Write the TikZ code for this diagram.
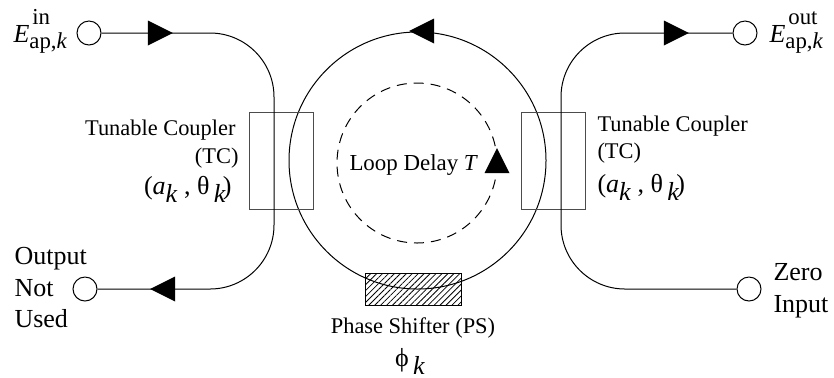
\documentclass[tikz,border=0pt]{standalone}
\usepackage{fontspec}
\setmainfont{Liberation Serif}
\usetikzlibrary{shapes.geometric,patterns.meta}
\newcommand{\lowk}{\raisebox{-4pt}{\textit{k}}}
\newcommand{\fieldE}[1]{\textit{E}\rlap{\kern1.5pt\raisebox{9pt}{\fontsize{11.4}{12}\selectfont #1}}\raisebox{-3pt}{\fontsize{11.4}{12}\selectfont ap,\textit{k}}}
\begin{document}
\begin{tikzpicture}[
    x=0.5pt,
    y=-0.5pt,
    line width=0.5pt,
    font=\fontsize{11.2}{14}\selectfont,
    port/.style={
		circle,
		draw=black,
		fill=white,
		inner sep=0pt,
		minimum size=12pt
	},
	head/.style={
		isosceles triangle,
		isosceles triangle apex angle=53,
		isosceles triangle stretches,
		fill=black,
		inner sep=0pt,
		minimum width=12.5pt,
		minimum height=12.5pt
	},
	coupler/.style={
		rectangle,
		draw=black!70,
		inner sep=0pt,
		minimum width=32pt,
		minimum height=48.5pt
	},
	big/.style={
		inner sep=0pt,
		font=\fontsize{13}{15.8}\selectfont
	},
	label/.style={
		inner sep=0pt
	}
  ]
    \useasboundingbox (0,0) rectangle (834,377);

    % ring and delay loop
    \node [circle, draw=black, inner sep=0pt, minimum size=128.5pt] (ring) at (417.5,160.5) {};
    \node [circle, draw=black, dash pattern=on 5pt off 3.5pt, inner sep=0pt, minimum size=80pt] (loop) at (417,163) {};

    % couplers and phase shifter
    \node [coupler] (tcleft) at (281,160.5) {};
    \node [coupler] (tcright) at (553,160.5) {};
    \node [rectangle, draw=black, pattern={Lines[angle=45,distance=2.1pt,line width=0.4pt]}, inner sep=0pt, minimum width=48pt, minimum height=16pt] (ps) at (413.5,289) {};

    % ports
    \node [port] (inport) at (89,33) {};
    \node [port] (outport) at (745,33) {};
    \node [port] (unused) at (85,289) {};
    \node [port] (zero) at (749,289) {};
    \coordinate (busleft) at (274,160);
    \coordinate (busright) at (561,160);

    \draw [rounded corners=32pt] (inport) -- (inport -| busleft) -- (unused -| busleft) -- (unused);
    \draw [rounded corners=32pt] (outport) -- (outport -| busright) -- (zero -| busright) -- (zero);

    % arrow heads
    \node [head, anchor=apex] (headin) at (174,33) {};
    \node [head, anchor=apex, shape border rotate=180] (headunused) at (149,289) {};
    \node [head, anchor=apex] (headout) at (690,33) {};
    \node [head, anchor=apex, shape border rotate=180] (headring) at (408,31) {};
    \node [head, anchor=apex, shape border rotate=90] (headloop) at (497,147) {};

    % labels
    \node [big, anchor=base west] (labelin) at (13,42) {\fieldE{in}};
    \node [big, anchor=base west] (labelout) at (769,42) {\fieldE{out}};
    \node [big, anchor=north west, align=left] (labelunused) at (14,247) {Output\\Not\\Used};
    \node [big, anchor=north west, align=left] (labelzero) at (773,263) {Zero\\Input};

    \node [label, anchor=base east] (tcnameleft) at (236,135) {Tunable Coupler};
    \node [label, anchor=base east] (tcshortleft) at (239,163) {(TC)};
    \node [big, anchor=base east] (tcvalleft) at (232,194) {(\textit{a}\lowk{} , \symbol{"03B8}\,\lowk\kern-1.5pt)};
    \node [label, anchor=base west] (tcnameright) at (597,131) {Tunable Coupler};
    \node [label, anchor=base west] (tcshortright) at (597,158) {(TC)};
    \node [big, anchor=base west] (tcvalright) at (597,192) {(\textit{a}\lowk{} , \symbol{"03B8}\,\lowk\kern-1.5pt)};

    \node [label, font=\fontsize{11.45}{14}\selectfont, anchor=base west] (looplabel) at (349,170.5) {Loop Delay \textit{T}};
    \node [label, anchor=base] (pslabel) at (413,333) {Phase Shifter (PS)};
    \node [big, anchor=base] (phaselabel) at (410,366) {\symbol{"03D5}\,\lowk};
\end{tikzpicture}
\end{document}
